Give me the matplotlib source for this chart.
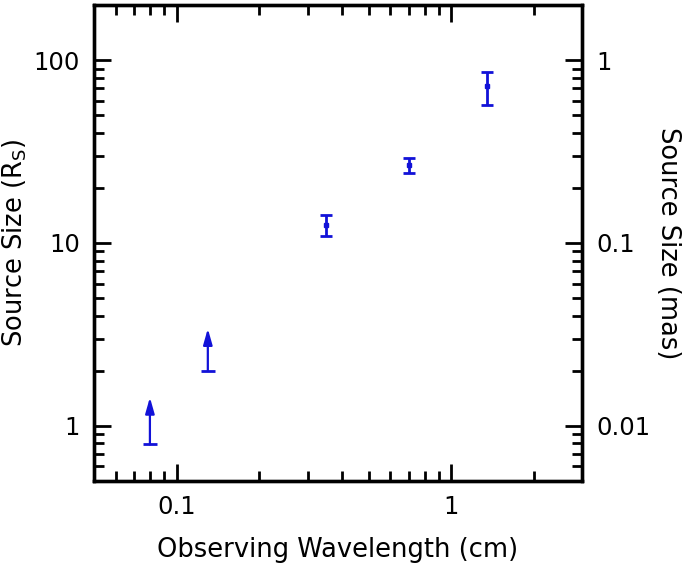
import matplotlib
matplotlib.use("Agg")
import matplotlib.pyplot as plt
from matplotlib.ticker import LogLocator, FixedLocator, FixedFormatter, NullFormatter

plt.rcParams['font.family'] = ['DejaVu Sans']
plt.rcParams['mathtext.default'] = 'regular'

# measured points with error bars
wl_meas = [0.35, 0.70, 1.35]
size_meas = [12.6, 26.6, 72.0]
err_lo = [1.7, 2.5, 14.8]
err_hi = [1.7, 2.6, 14.3]

# lower limits
wl_lim = [0.08, 0.13]
size_lim = [0.79, 2.0]
arrow_tip = [1.43, 3.4]

xticks = [0.1, 1]
xticklabels = ['0.1', '1']
yticks = [1, 10, 100]
yticklabels = ['1', '10', '100']
y2ticks = [0.01, 0.1, 1]
y2ticklabels = ['0.01', '0.1', '1']

color = '#1212d8'
fs_tick = 17.5
fs_lab = 18.5

fig = plt.figure(figsize=(6.85, 5.69), dpi=100)
ax = fig.add_axes([0.137, 0.155, 0.713, 0.836])
ax.set_xscale('log')
ax.set_yscale('log')
ax.set_xlim(0.05, 3)
ax.set_ylim(0.5, 200)

ax.errorbar(wl_meas, size_meas, yerr=[err_lo, err_hi], fmt='s', ms=2.5,
            color=color, ecolor=color, elinewidth=2, capsize=4.5, capthick=2)

for x, y, t in zip(wl_lim, size_lim, arrow_tip):
    ax.plot([x], [y], marker='_', ms=9.5, mew=2, color=color)
    ax.annotate('', xy=(x, t), xytext=(x, y),
                arrowprops=dict(arrowstyle='-|>,head_length=0.95,head_width=0.27',
                                color=color, lw=1.6, shrinkA=0, shrinkB=0))

for s in ax.spines.values():
    s.set_linewidth(2.4)

ax.xaxis.set_major_locator(FixedLocator(xticks))
ax.xaxis.set_major_formatter(FixedFormatter(xticklabels))
ax.xaxis.set_minor_locator(LogLocator(base=10, subs=range(2, 10)))
ax.xaxis.set_minor_formatter(NullFormatter())
ax.yaxis.set_major_locator(FixedLocator(yticks))
ax.yaxis.set_major_formatter(FixedFormatter(yticklabels))
ax.yaxis.set_minor_locator(LogLocator(base=10, subs=range(2, 10)))
ax.yaxis.set_minor_formatter(NullFormatter())

ax.tick_params(which='both', direction='in', top=True, right=False, width=2)
ax.tick_params(which='major', length=12, labelsize=fs_tick, pad=10)
ax.tick_params(which='minor', length=7)

ax2 = ax.twinx()
ax2.set_yscale('log')
ax2.set_ylim(0.005, 2)
ax2.yaxis.set_major_locator(FixedLocator(y2ticks))
ax2.yaxis.set_major_formatter(FixedFormatter(y2ticklabels))
ax2.yaxis.set_minor_locator(LogLocator(base=10, subs=range(2, 10)))
ax2.yaxis.set_minor_formatter(NullFormatter())
ax2.tick_params(which='both', direction='in', width=2)
ax2.tick_params(which='major', length=12, labelsize=fs_tick, pad=10)
ax2.tick_params(which='minor', length=7)
for s in ax2.spines.values():
    s.set_linewidth(2.4)

ax.set_xlabel('Observing Wavelength (cm)', fontsize=fs_lab, va='center')
ax.xaxis.set_label_coords(0.5, -0.1455)
ax.set_ylabel(r'Source Size (R$_{S}$)', fontsize=fs_lab, va='center')
ax.yaxis.set_label_coords(-0.162, 0.5)
ax2.set_ylabel('Source Size (mas)', fontsize=fs_lab, rotation=270, va='center')
ax2.yaxis.set_label_coords(1.176, 0.5)

fig.savefig('out.png', dpi=100)
